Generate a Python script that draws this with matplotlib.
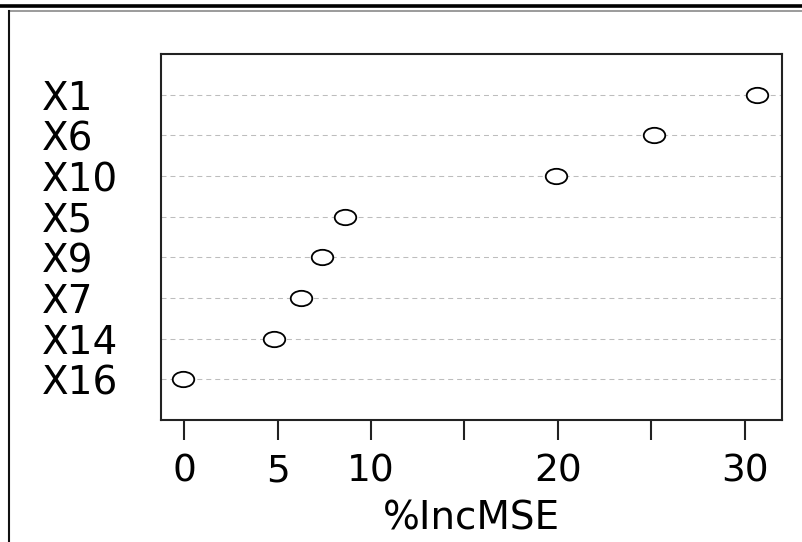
import numpy as np
import matplotlib
matplotlib.use("Agg")
import matplotlib.pyplot as plt
from matplotlib.path import Path
from matplotlib.transforms import Affine2D
from matplotlib.lines import Line2D

# data (top row first)
variables = ["X1", "X6", "X10", "X5", "X9", "X7", "X14", "X16"]
inc_mse = [30.64, 25.15, 19.92, 8.60, 7.38, 6.25, 4.81, -0.07]
x_ticks = [0, 5, 10, 15, 20, 25, 30]
x_tick_labels = ["0", "5", "10", "", "20", "", "30"]
x_label = "%IncMSE"

plt.rcParams['font.family'] = ['DejaVu Sans']

fig = plt.figure(figsize=(8.03, 5.42), dpi=100)
ax = fig.add_axes([161 / 803, 1 - 420 / 542, (782 - 161) / 803, (420 - 54) / 542])

n = len(variables)
ypos = np.arange(n, 0, -1)

# dotted guide lines, as in R's dotchart
for y in ypos:
    ax.axhline(y, color="#bdbdbd", lw=0.75, ls=(0, (4.8, 3.8)), zorder=1)

# wide open circle (source picture is stretched horizontally)
ellipse = Path.unit_circle().transformed(Affine2D().scale(1.4, 1.0))
ax.plot(inc_mse, ypos, ls="none", marker=ellipse, markersize=15.5,
        markerfacecolor="white", markeredgecolor="black", markeredgewidth=1.3, zorder=3)

ax.set_xlim(-1.25, 32.0)
ax.set_ylim(0, n + 1)

ax.set_xticks(x_ticks, x_tick_labels)
ax.tick_params(axis="x", length=14.4, width=1.5, pad=10, labelsize=27, color="#222222")

ax.set_yticks(ypos, variables)
ax.tick_params(axis="y", length=0, pad=85.7, labelsize=28)
for lab in ax.get_yticklabels():
    lab.set_horizontalalignment("left")

ax.set_xlabel(x_label, fontsize=28)
ax.xaxis.set_label_coords(0.5, (420 - 519) / 366)
ax.xaxis.label.set_va("center")

for sp in ax.spines.values():
    sp.set_linewidth(1.5)
    sp.set_color("#222222")

# page frame around the figure
fig.add_artist(Line2D([0, 1], [1 - 5.5 / 542] * 2, color="black", lw=2.6))
fig.add_artist(Line2D([8.5 / 803, 1], [1 - 10.5 / 542] * 2, color="#808080", lw=1.1))
fig.add_artist(Line2D([9.5 / 803] * 2, [1 - 10.5 / 542, 0], color="#111111", lw=1.5))

fig.savefig("out.png", dpi=100)
